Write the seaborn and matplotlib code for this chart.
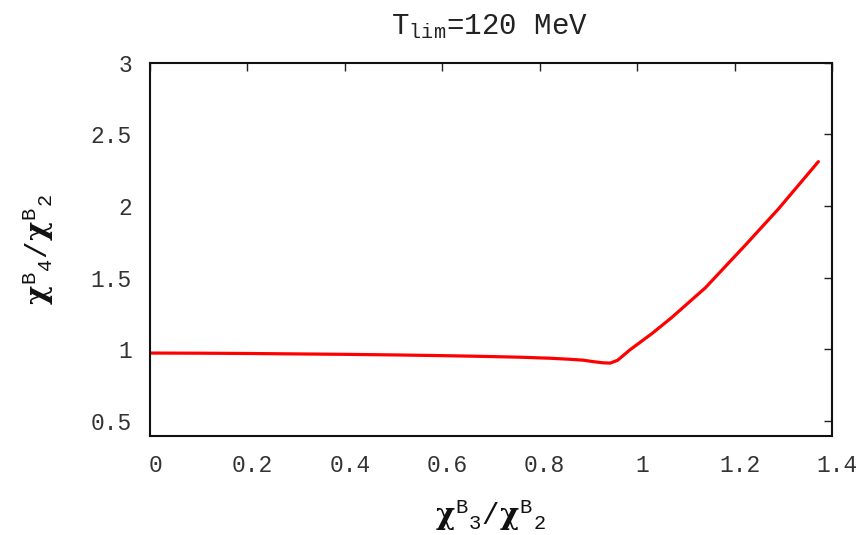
import matplotlib
matplotlib.use("Agg")
import matplotlib.pyplot as plt
import matplotlib.transforms as mtransforms
import seaborn as sns
import pandas as pd

# chi3/chi2 ratio along the freeze-out curve
ratio_32 = [0.0, 0.1, 0.2, 0.3, 0.4, 0.5, 0.6, 0.68, 0.76, 0.82, 0.86, 0.89,
            0.91, 0.93, 0.945, 0.96, 0.985, 1.03, 1.07, 1.14, 1.22, 1.29, 1.372]
# chi4/chi2 ratio
ratio_42 = [0.975, 0.974, 0.972, 0.969, 0.966, 0.962, 0.957, 0.952, 0.946, 0.939,
            0.932, 0.925, 0.915, 0.907, 0.905, 0.925, 0.997, 1.11, 1.22, 1.43,
            1.72, 1.98, 2.31]

x_ticks = [0, 0.2, 0.4, 0.6, 0.8, 1, 1.2, 1.4]
x_tick_labels = ["0", "0.2", "0.4", "0.6", "0.8", "1", "1.2", "1.4"]
y_ticks = [0.5, 1, 1.5, 2, 2.5, 3]
y_tick_labels = ["0.5", "1", "1.5", "2", "2.5", "3"]

df = pd.DataFrame({"r32": ratio_32, "r42": ratio_42})

sns.set_theme(style="white")
plt.rcParams["font.family"] = ["Liberation Mono", "DejaVu Sans"]
plt.rcParams["mathtext.fontset"] = "custom"
plt.rcParams["mathtext.rm"] = "Liberation Mono"
plt.rcParams["mathtext.it"] = "DejaVu Serif:bold"
plt.rcParams["mathtext.bf"] = "DejaVu Serif:bold"

W, H = 859, 535
fig = plt.figure(figsize=(W / 100, H / 100), dpi=100)
ax = fig.add_axes([150 / W, 1 - 435.5 / H, 682 / W, 372.8 / H])

sns.lineplot(data=df, x="r32", y="r42", sort=False, estimator=None,
             color="#ff0000", linewidth=2.3, ax=ax)

ax.set_xlim(0, 1.4)
ax.set_ylim(0.4, 3.0)
ax.set_xticks(x_ticks)
ax.set_xticklabels(x_tick_labels)
ax.set_yticks(y_ticks)
ax.set_yticklabels(y_tick_labels)

ax.tick_params(direction="in", length=6, width=1.0, color="#222222",
               top=True, right=True, labelsize=16.5, labelcolor="#333333")
ax.tick_params(axis="x", pad=13)
ax.tick_params(axis="y", pad=13)

# shift x tick labels slightly to the right
shift = mtransforms.ScaledTranslation(5 / 100, 0, fig.dpi_scale_trans)
for lbl in ax.get_xticklabels():
    lbl.set_transform(lbl.get_transform() + shift)

for s in ax.spines.values():
    s.set_visible(True)
    s.set_color("#111111")
    s.set_linewidth(1.5)

ax.set_xlabel("")
ax.set_ylabel("")
fig.text(490 / W, 1 - 515 / H,
         r"$\chi^{\mathrm{B}}{}_{3}/\chi^{\mathrm{B}}{}_{2}$",
         fontsize=21, ha="center", va="center", color="#111111")
fig.text(38 / W, 1 - 250 / H,
         r"$\chi^{\mathrm{B}}{}_{4}/\chi^{\mathrm{B}}{}_{2}$",
         fontsize=21, ha="center", va="center", rotation=90, color="#111111")
fig.text(489 / W, 1 - 27 / H, r"T$_{\mathrm{lim}}$=120 MeV",
         fontsize=21, ha="center", va="center", color="#222222")

fig.savefig("out.png", dpi=100)
